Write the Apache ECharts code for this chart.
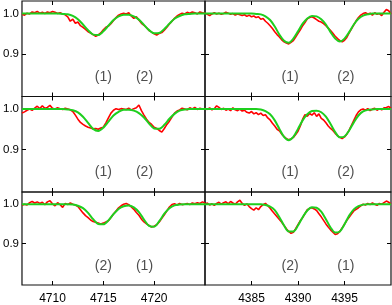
<!DOCTYPE html>
<html><head><meta charset="utf-8">
<script src="https://cdn.jsdelivr.net/npm/echarts@6/dist/echarts.min.js"></script>
<style>html,body{margin:0;padding:0;background:#fff}#c{width:392px;height:305px}</style>
</head><body><div id="c"></div>
<script>
// wavelength ranges and tick labels
const leftRange = [4707, 4725];
const rightRange = [4380, 4400];
const xTicksLeft = [4710, 4715, 4720];
const xTicksRight = [4385, 4390, 4395];
const yTicks = [0.9, 1.0];
const yRange = [0.795, 1.031];
const obsStep = 0.25;   // observed spectrum sampling (Å)
const fitStep = 0.5;    // model sampling (Å)

// Row 1
const obsL1 = [0.998,0.996,1.001,0.999,1.004,1.002,1.005,1.001,1.003,1.000,1.004,1.002,1.005,1.003,1.000,1.002,
0.999,0.997,0.992,0.981,0.986,0.976,0.979,0.970,0.966,0.961,0.955,0.952,0.948,0.944,0.947,0.952,
0.960,0.966,0.969,0.975,0.983,0.990,0.996,0.999,1.001,0.999,1.002,0.994,0.988,0.992,0.984,0.976,
0.971,0.965,0.958,0.954,0.950,0.947,0.951,0.953,0.959,0.966,0.974,0.981,0.988,0.994,0.998,1.001,
0.999,1.003,1.001,1.004,1.002,0.999,1.004,1.002,1.001];
const fitL1 = [1,1,1,1,1,1,1,1,0.999,0.998,0.994,0.986,0.973,0.959,0.948,0.947,0.956,0.970,0.984,0.993,0.997,0.997,
0.993,0.985,0.972,0.959,0.951,0.952,0.962,0.975,0.987,0.994,0.998,0.999,1,1,1];
const obsR1 = [1.001,0.998,0.995,0.999,1.002,0.999,1.001,0.998,1.000,1.003,1.001,0.998,1.000,0.996,0.999,0.997,
0.995,0.997,0.993,0.996,0.992,0.994,0.990,0.992,0.986,0.988,0.981,0.976,0.970,0.963,0.955,0.948,
0.942,0.935,0.930,0.927,0.925,0.929,0.933,0.942,0.951,0.960,0.970,0.978,0.987,0.990,0.992,0.989,
0.985,0.981,0.979,0.975,0.970,0.964,0.958,0.951,0.944,0.938,0.933,0.930,0.934,0.941,0.952,0.962,
0.972,0.982,0.990,0.996,1.000,1.002,0.999,1.001,0.996,1.002,0.998,1.000,0.995,1.003,1.010,1.007,0.999];
const fitR1 = [1,1,1,1,1,1,1,1,1,1,1,0.999,0.998,0.993,0.984,0.968,0.948,0.933,0.928,0.938,0.956,0.975,0.988,0.994,
0.993,0.986,0.973,0.954,0.938,0.931,0.938,0.954,0.973,0.987,0.995,0.998,1,1,1,1,1];

// Row 2
const obsL2 = [0.990,0.993,0.997,1.000,0.997,1.002,1.007,1.001,1.008,1.002,1.004,1.009,1.002,1.000,1.003,1.001,
0.999,1.002,1.000,0.998,0.994,0.985,0.975,0.967,0.962,0.958,0.955,0.953,0.951,0.952,0.950,0.953,
0.955,0.966,0.978,0.990,0.997,1.001,0.999,1.001,1.000,0.999,1.002,0.998,1.001,1.003,1.010,0.996,
0.985,0.975,0.967,0.962,0.955,0.952,0.947,0.943,0.952,0.962,0.970,0.980,0.990,0.995,0.998,1.002,
1.000,0.998,1.003,1.000,1.004,0.999,1.002,1.000,1.001];
const fitL2 = [1,1,1,1,1,1,1,1,1,0.999,0.997,0.992,0.981,0.966,0.951,0.946,0.954,0.969,0.984,0.993,0.998,0.998,
0.996,0.990,0.979,0.964,0.952,0.951,0.961,0.976,0.988,0.996,0.999,1,1,1,1];
const obsR2 = [1.002,0.999,1.003,0.998,1.001,1.008,1.004,0.999,1.002,0.997,1.000,0.996,1.003,0.998,0.996,1.000,
0.995,0.997,0.992,0.990,0.994,0.988,0.991,0.986,0.990,0.984,0.986,0.978,0.973,0.965,0.958,0.950,
0.946,0.938,0.932,0.927,0.924,0.926,0.930,0.937,0.945,0.958,0.975,0.986,0.982,0.989,0.985,0.991,
0.982,0.988,0.977,0.973,0.966,0.958,0.952,0.947,0.940,0.934,0.930,0.927,0.931,0.938,0.948,0.960,
0.972,0.984,0.993,0.998,1.000,0.997,1.001,0.996,1.000,1.002,0.997,1.001,0.998,1.003,1.004,1.006,1.002];
const fitR2 = [1,1,1,1,1,1,1,1,1,1,1,1,0.999,0.995,0.987,0.972,0.951,0.931,0.923,0.931,0.951,0.972,0.987,0.995,
0.996,0.992,0.981,0.963,0.943,0.930,0.932,0.947,0.967,0.984,0.994,0.998,0.999,1,1,1,1];

// Row 3
const obsL3 = [0.997,1.000,0.998,1.004,1.007,1.003,1.006,1.002,1.005,0.999,1.006,1.009,1.001,0.996,1.004,0.999,
0.992,1.002,0.999,1.003,1.000,0.998,0.994,0.986,0.978,0.971,0.966,0.960,0.956,0.954,0.952,0.950,
0.952,0.955,0.958,0.966,0.975,0.983,0.991,0.996,1.000,1.002,0.999,0.993,0.987,0.979,0.972,0.962,
0.955,0.950,0.946,0.942,0.944,0.948,0.955,0.964,0.973,0.983,0.993,0.999,1.001,0.998,1.002,0.999,
1.000,1.002,0.999,1.003,1.001,1.004,1.002,1.006,1.003];
const fitL3 = [1,1,1,1,1,1,1,1,1,1,0.999,0.996,0.990,0.978,0.962,0.950,0.949,0.959,0.975,0.988,0.995,0.997,
0.992,0.980,0.961,0.945,0.943,0.957,0.976,0.990,0.997,0.999,1,1,1,1,1];
const obsR3 = [1.000,1.003,0.998,1.001,0.997,1.002,1.005,1.000,1.004,1.006,1.001,1.007,1.003,1.000,1.006,1.010,
1.002,0.997,1.001,0.994,0.989,0.985,0.991,0.986,0.994,0.999,1.002,0.996,0.990,0.982,0.975,0.968,
0.961,0.954,0.946,0.938,0.931,0.926,0.929,0.938,0.948,0.958,0.966,0.976,0.986,0.989,0.991,0.988,
0.984,0.976,0.968,0.959,0.950,0.942,0.935,0.929,0.923,0.925,0.931,0.940,0.949,0.959,0.967,0.975,
0.983,0.987,0.991,0.996,1.000,0.998,1.002,0.999,1.003,1.000,0.997,1.002,1.000,1.004,1.008,1.005,1.001];
const fitR3 = [1,1,1,1,1,1,1,1,1,1,1,1,1,0.998,0.994,0.985,0.967,0.946,0.931,0.931,0.946,0.967,0.984,0.992,
0.991,0.981,0.962,0.941,0.928,0.931,0.949,0.971,0.987,0.995,0.999,1,1,1,1,1,1];

// component labels: [wavelength, text]
const labelsL1 = [[4715.0, '(1)'], [4719.05, '(2)']];
const labelsR1 = [[4389.15, '(1)'], [4395.15, '(2)']];
const labelsL2 = [[4715.0, '(1)'], [4719.05, '(2)']];
const labelsR2 = [[4389.15, '(1)'], [4395.15, '(2)']];
const labelsL3 = [[4715.0, '(2)'], [4719.05, '(1)']];
const labelsR3 = [[4389.15, '(2)'], [4395.15, '(1)']];
const labelLevel = 0.844;

const panels = [
  {row:0,col:0,obs:obsL1,fit:fitL1,lab:labelsL1},
  {row:0,col:1,obs:obsR1,fit:fitR1,lab:labelsR1},
  {row:1,col:0,obs:obsL2,fit:fitL2,lab:labelsL2},
  {row:1,col:1,obs:obsR2,fit:fitR2,lab:labelsR2},
  {row:2,col:0,obs:obsL3,fit:fitL3,lab:labelsL3},
  {row:2,col:1,obs:obsR3,fit:fitR3,lab:labelsR3}
];

const tops = [1, 96.5, 192];
const heights = [95.5, 95.5, 95];
const lefts = [20, 205];
const widths = [185, 186];
const FONT = 'Liberation Sans';

const grid = [], xAxis = [], yAxis = [], series = [];
panels.forEach((p, i) => {
  const range = p.col === 0 ? leftRange : rightRange;
  const xt = p.col === 0 ? xTicksLeft : xTicksRight;
  grid.push({left: lefts[p.col], top: tops[p.row], width: widths[p.col], height: heights[p.row],
    show: true, borderColor: '#111', borderWidth: 1.2, backgroundColor: 'transparent'});
  ['bottom','top'].forEach(pos => {
    xAxis.push({type:'value', gridIndex:i, position:pos, min:range[0], max:range[1],
      axisLine:{show:false}, splitLine:{show:false},
      axisTick:{show:true, inside:true, length:4, customValues:xt, lineStyle:{color:'#000', width:1}},
      axisLabel:{show: pos==='bottom' && p.row===2, customValues:xt, fontSize:12, color:'#000',
        fontFamily:FONT, margin:8, formatter: v => String(Math.round(v))}});
  });
  ['left','right'].forEach(pos => {
    yAxis.push({type:'value', gridIndex:i, position:pos, min:yRange[0], max:yRange[1],
      axisLine:{show:false}, splitLine:{show:false},
      axisTick:{show:true, inside:true, length:4, customValues:yTicks, lineStyle:{color:'#000', width:1}},
      axisLabel:{show: pos==='left' && p.col===0, customValues:yTicks, fontSize:11.5, color:'#000',
        fontFamily:FONT, margin:3, formatter: v => v.toFixed(1)}});
  });
  const xi = 2*i, yi = 2*i;
  series.push({type:'line', xAxisIndex:xi, yAxisIndex:yi, showSymbol:false, symbol:'none',
    data: p.obs.map((v,k) => [range[0] + k*obsStep, v]),
    lineStyle:{color:'#f00', width:1.6}, z:2, animation:false});
  series.push({type:'line', xAxisIndex:xi, yAxisIndex:yi, showSymbol:false, symbol:'none',
    data: p.fit.map((v,k) => [range[0] + k*fitStep, v]), smooth:0.3,
    lineStyle:{color:'#1ecf1e', width:2}, z:3, animation:false});
  series.push({type:'scatter', xAxisIndex:xi, yAxisIndex:yi, symbolSize:1, itemStyle:{color:'transparent'},
    data: p.lab.map(l => ({value:[l[0], labelLevel], name:l[1]})), animation:false, silent:true,
    label:{show:true, position:'inside', formatter: d => d.name,
      fontSize:14, color:'#222', fontFamily:FONT}});
});

const chart = echarts.init(document.getElementById('c'), null, {renderer:'canvas'});
chart.setOption({animation:false, backgroundColor:'#fff', grid, xAxis, yAxis, series});
</script>
</body></html>
